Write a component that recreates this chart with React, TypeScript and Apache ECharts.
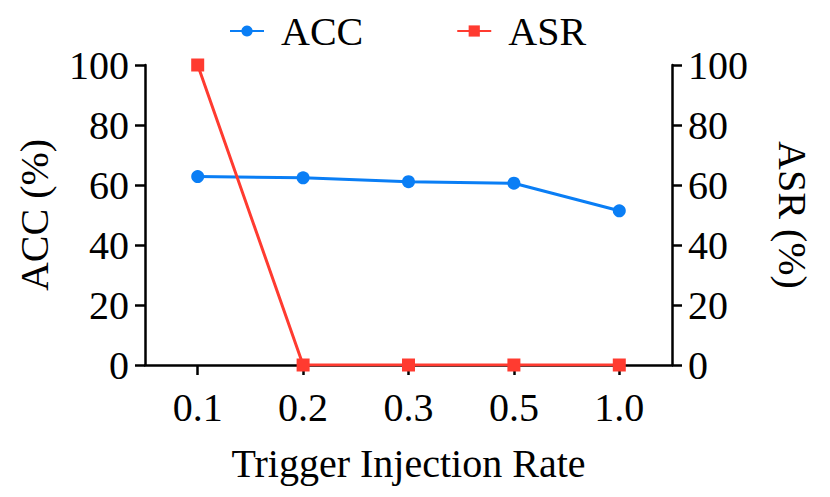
import React, { useEffect, useRef } from "react";
import * as echarts from "echarts";

const categories = ["0.1", "0.2", "0.3", "0.5", "1.0"];
const accValues = [62.8, 62.4, 61.1, 60.6, 51.4];
const asrValues = [100, 0, 0, 0, 0];

const FONT = "'Liberation Serif', 'Times New Roman', serif";
const BLUE = "#0a7ef5";
const RED = "#ff3b30";
const FS = 40;

export default function App() {
  const ref = useRef<HTMLDivElement>(null);
  useEffect(() => {
    if (!ref.current) return;
    const chart = echarts.init(ref.current, null, { renderer: "svg" });
    const axisCommon = {
      axisLine: { show: true, lineStyle: { color: "#000", width: 2.5 } },
      axisTick: { show: true, length: 10, lineStyle: { color: "#000", width: 2.5 } },
      splitLine: { show: false },
    };
    chart.setOption({
      animation: false,
      textStyle: { fontFamily: FONT },
      legend: {
        top: 6,
        left: 224,
        itemGap: 93,
        itemWidth: 34,
        itemHeight: 14,
        textStyle: { fontFamily: FONT, fontSize: FS, color: "#000", padding: [0, 0, 0, 12] },
        data: ["ACC", "ASR"],
      },
      grid: { left: 145, right: 158, top: 65, bottom: 132 },
      xAxis: {
        type: "category",
        data: categories,
        boundaryGap: true,
        name: "Trigger Injection Rate",
        nameLocation: "middle",
        nameGap: 78,
        nameTextStyle: { fontFamily: FONT, fontSize: FS, color: "#000" },
        ...axisCommon,
        axisTick: { show: true, length: 10, alignWithLabel: true, lineStyle: { color: "#000", width: 2.5 } },
        axisLabel: { fontFamily: FONT, fontSize: FS, color: "#000", margin: 22 },
      },
      yAxis: [
        {
          type: "value",
          min: 0,
          max: 100,
          interval: 20,
          position: "left",
          name: "ACC (%)",
          nameLocation: "middle",
          nameGap: 91,
          nameTextStyle: { fontFamily: FONT, fontSize: FS, color: "#000" },
          ...axisCommon,
          axisLabel: { fontFamily: FONT, fontSize: FS, color: "#000", margin: 16 },
        },
        {
          type: "value",
          min: 0,
          max: 100,
          interval: 20,
          position: "right",
          name: "ASR (%)",
          nameLocation: "middle",
          nameGap: 100,
          nameRotate: -90,
          nameTextStyle: { fontFamily: FONT, fontSize: FS, color: "#000" },
          ...axisCommon,
          axisLabel: { fontFamily: FONT, fontSize: FS, color: "#000", margin: 16 },
        },
      ],
      series: [
        {
          name: "ACC",
          type: "line",
          data: accValues,
          yAxisIndex: 0,
          symbol: "circle",
          symbolSize: 13,
          itemStyle: { color: BLUE },
          lineStyle: { color: BLUE, width: 3 },
        },
        {
          name: "ASR",
          type: "line",
          data: asrValues,
          yAxisIndex: 1,
          symbol: "rect",
          symbolSize: 13,
          itemStyle: { color: RED },
          lineStyle: { color: RED, width: 3 },
        },
      ],
    });
    return () => chart.dispose();
  }, []);
  return <div ref={ref} style={{ width: 830, height: 497, margin: -8 }} />;
}
